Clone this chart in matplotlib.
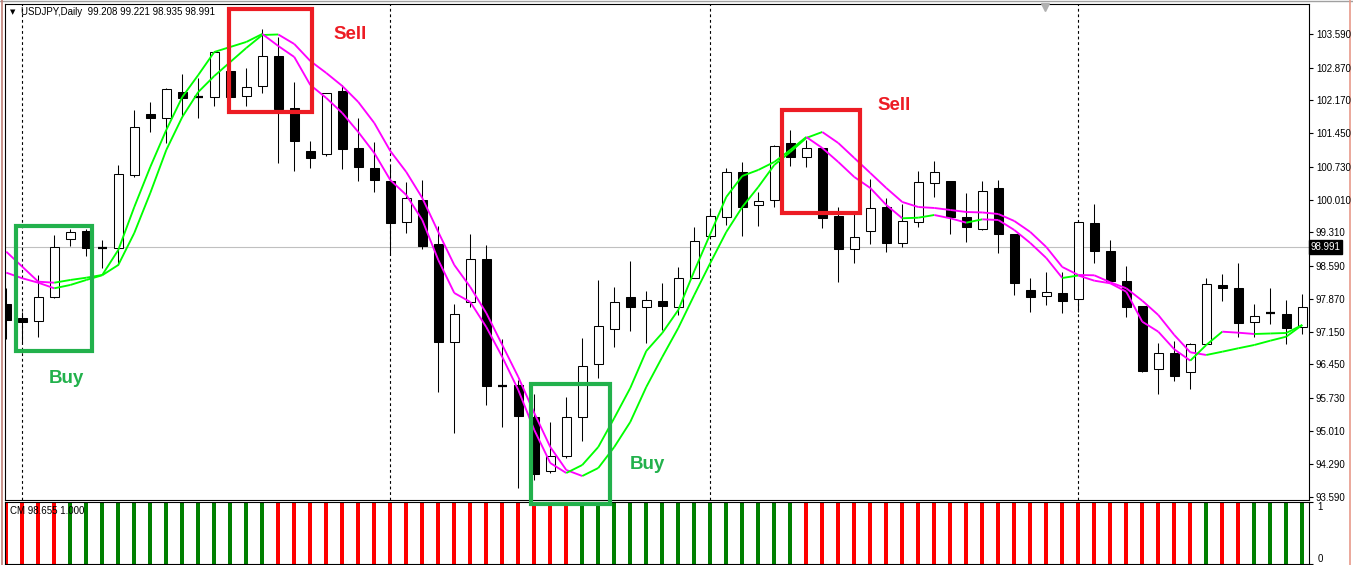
import matplotlib
matplotlib.use("Agg")
import matplotlib.pyplot as plt
from matplotlib.patches import Rectangle
from matplotlib.collections import LineCollection
from matplotlib.lines import Line2D
from matplotlib.transforms import blended_transform_factory

plt.rcParams['font.family'] = ['Liberation Sans', 'DejaVu Sans']

# daily USDJPY candles
opens = [97.758, 97.455, 97.390, 97.909, 99.163, 99.336, 98.969, 98.969, 100.547, 101.867,
         101.780, 102.342, 102.234, 102.234, 102.797, 102.256, 102.472, 103.121, 101.996, 101.067,
         101.002, 102.364, 101.131, 100.699, 100.418, 99.531, 100.007, 99.055, 96.936, 97.801,
         98.731, 95.984, 96.006, 95.314, 94.146, 94.471, 95.314, 96.460, 97.217, 97.909,
         97.693, 97.823, 97.693, 98.320, 99.228, 99.639, 100.612, 99.899, 100.007, 101.239,
         100.937, 101.131, 99.661, 98.947, 99.336, 99.855, 99.077, 99.531, 100.374, 100.418,
         99.639, 99.380, 100.266, 99.272, 98.060, 97.931, 97.996, 97.866, 99.509, 98.904,
         98.255, 97.714, 96.352, 96.698, 96.287, 96.893, 98.169, 98.104, 97.368, 97.563,
         97.541, 97.260]
highs = [98.104, 97.585, 98.385, 99.250, 99.380, 99.380, 99.142, 100.764, 101.953, 102.126,
         102.429, 102.732, 102.645, 103.220, 102.818, 102.861, 103.705, 103.532, 102.559, 101.283,
         102.330, 102.494, 101.780, 101.261, 100.764, 100.396, 100.439, 99.445, 97.758, 99.272,
         99.034, 97.001, 96.114, 95.811, 95.206, 95.746, 97.022, 98.277, 98.125, 98.688,
         98.039, 98.212, 98.558, 99.423, 99.834, 100.699, 100.829, 100.180, 101.196, 101.521,
         101.304, 101.140, 99.855, 99.726, 100.461, 100.050, 99.920, 100.634, 100.850, 100.425,
         100.158, 100.418, 100.439, 99.280, 98.320, 98.450, 98.450, 99.540, 99.920, 99.142,
         98.580, 97.720, 96.914, 96.958, 96.914, 98.320, 98.406, 98.644, 97.758, 98.104,
         97.844, 97.974]
lows = [97.001, 96.914, 97.044, 97.887, 99.012, 98.796, 98.536, 98.601, 100.504, 101.477,
        101.239, 101.802, 101.780, 102.040, 102.213, 102.040, 102.321, 100.807, 100.634, 100.699,
        100.958, 100.677, 100.418, 100.180, 98.817, 99.293, 98.947, 95.855, 94.968, 97.693,
        95.574, 95.098, 93.779, 93.952, 94.103, 94.427, 94.795, 96.157, 96.828, 97.174,
        96.914, 97.195, 97.520, 98.310, 99.220, 99.466, 99.228, 99.445, 99.855, 100.742,
        100.721, 99.401, 98.233, 98.644, 99.055, 98.882, 98.990, 99.423, 100.072, 99.272,
        99.099, 99.358, 98.861, 97.952, 97.585, 97.736, 97.563, 97.585, 98.644, 98.250,
        97.477, 96.287, 95.811, 96.093, 95.920, 96.885, 97.823, 97.044, 97.044, 97.325,
        96.893, 97.109]
closes = [97.412, 97.368, 97.909, 98.990, 99.315, 98.969, 98.969, 100.569, 101.586, 101.780,
          102.407, 102.213, 102.234, 103.207, 102.234, 102.451, 103.121, 101.975, 101.283, 100.915,
          102.321, 101.110, 100.721, 100.439, 99.509, 100.050, 99.012, 96.936, 97.541, 98.731,
          95.984, 95.984, 95.336, 94.081, 94.471, 95.314, 96.417, 97.282, 97.801, 97.693,
          97.844, 97.714, 98.320, 99.120, 99.661, 100.612, 99.855, 99.985, 101.175, 100.937,
          101.131, 99.618, 98.947, 99.207, 99.834, 99.077, 99.553, 100.396, 100.612, 99.639,
          99.423, 100.201, 99.272, 98.212, 97.909, 98.017, 97.823, 99.531, 98.904, 98.255,
          97.693, 96.309, 96.698, 96.201, 96.893, 98.190, 98.104, 97.347, 97.498, 97.563,
          97.239, 97.693]

# the two moving averages
ma_fast = [98.889, 98.564, 98.240, 98.218, 98.277, 98.326, 98.385, 98.926, 99.855, 100.721,
           101.521, 102.234, 102.710, 103.207, 103.316, 103.424, 103.597, 103.337, 103.099, 102.494,
           102.213, 101.888, 101.477, 101.023, 100.439, 100.115, 99.574, 98.709, 97.996, 97.801,
           97.260, 96.612, 95.898, 95.033, 94.319, 94.103, 94.276, 94.665, 95.292, 95.941,
           96.741, 97.131, 97.628, 98.471, 99.272, 100.072, 100.526, 100.656, 100.829, 101.088,
           101.369, 101.131, 100.829, 100.504, 100.266, 99.899, 99.611, 99.624, 99.682, 99.611,
           99.516, 99.589, 99.574, 99.358, 99.077, 98.752, 98.320, 98.374, 98.262, 98.205,
           98.024, 97.375, 97.159, 96.778, 96.532, 96.871, 97.159, 97.137, 97.109, 97.120,
           97.131, 97.304]
ma_slow = [98.435, 98.314, 98.218, 98.097, 98.169, 98.277, 98.380, 98.601, 99.293, 100.158,
           101.088, 101.802, 102.342, 102.688, 102.991, 103.294, 103.575, 103.586, 103.380, 103.013,
           102.753, 102.472, 102.126, 101.672, 101.067, 100.612, 100.050, 99.315, 98.601, 98.125,
           97.563, 96.871, 96.179, 95.400, 94.665, 94.168, 94.038, 94.211, 94.665, 95.206,
           95.963, 96.612, 97.239, 97.952, 98.644, 99.315, 99.855, 100.288, 100.764, 101.045,
           101.348, 101.477, 101.239, 100.915, 100.591, 100.266, 99.964, 99.855, 99.834, 99.791,
           99.747, 99.737, 99.704, 99.553, 99.315, 98.990, 98.558, 98.385, 98.378, 98.227,
           98.097, 97.829, 97.520, 97.087, 96.713, 96.655, 96.726, 96.800, 96.871, 96.964,
           97.051, 97.304]

# bottom indicator: 1 = green bar, 0 = red bar
signal = [0, 0, 0, 0] + [1] * 13 + [0] * 19 + [1] * 14 + [0] * 25 + [1, 0, 0, 1, 1, 1, 1]

price_ticks = [103.590, 102.870, 102.170, 101.450, 100.730, 100.010, 99.310, 98.590,
               97.870, 97.150, 96.450, 95.730, 95.010, 94.290, 93.590]
separators = [1, 24, 44, 67]
last_price = 98.991
header = "USDJPY,Daily  99.208 99.221 98.935 98.991"
indicator_label = "CM 98.655 1.000"

# marked zones: (label, first bar, last bar, top price, bottom price, label bar, label price)
zones = [("Buy", 0.59, 5.38, 99.445, 96.748, 3.78, 96.14),
         ("Sell", 13.92, 19.11, 104.127, 101.910, 21.48, 103.575),
         ("Buy", 32.79, 37.73, 96.028, 93.432, 40.08, 94.28),
         ("Sell", 48.46, 53.33, 101.942, 99.726, 55.48, 102.06)]

GREEN = "#00ff00"
MAGENTA = "#ff00ff"
zone_colors = {"Buy": "#22b14c", "Sell": "#ed1c24"}

W, H = 1353, 565
fig = plt.figure(figsize=(W / 100, H / 100), dpi=100)
ax2 = fig.add_axes([5 / W, 1 - 564 / H, 1304 / W, 62 / H])
ax = fig.add_axes([5 / W, 1 - 500 / H, 1304 / W, 496 / H])
ax.set_zorder(3)
ax.patch.set_visible(False)

n = len(closes)
xlim = (-0.08, 81.42)

# candles
body_w = 0.58
for i in range(n):
    o, h, l, c = opens[i], highs[i], lows[i], closes[i]
    ax.plot([i, i], [l, h], color="black", lw=0.75, zorder=2, solid_capstyle="butt")
    if c == o:
        ax.plot([i - body_w / 2, i + body_w / 2], [c, c], color="black", lw=1.6, zorder=3,
                solid_capstyle="butt")
    else:
        fc = "white" if c > o else "black"
        ax.add_patch(Rectangle((i - body_w / 2, min(o, c)), body_w, abs(c - o),
                               facecolor=fc, edgecolor="black", lw=0.75, zorder=3))

# moving averages, green while rising, magenta while falling
for ma in (ma_slow, ma_fast):
    segs, cols = [], []
    for j in range(1, n):
        segs.append([(j - 1, ma[j - 1]), (j, ma[j])])
        cols.append(GREEN if ma[j] >= ma[j - 1] else MAGENTA)
    ax.add_collection(LineCollection(segs, colors=cols, linewidths=1.35, zorder=4))

# last price line and separators
ax.axhline(last_price, color="#c0c0c0", lw=0.8, zorder=1)
for s in separators:
    ax.axvline(s, color="black", lw=0.8, ls=(0, (2.5, 2.5)), zorder=1)
    ax2.axvline(s, color="black", lw=0.8, ls=(0, (2.5, 2.5)), zorder=1)

ax.set_xlim(*xlim)
ax.set_ylim(93.519, 104.245)
ax.set_xticks([])
ax.yaxis.tick_right()
ax.set_yticks(price_ticks)
ax.set_yticklabels([f"{t:.3f}" for t in price_ticks])
ax.tick_params(axis="y", direction="out", length=3, width=0.8, pad=2, labelsize=7)
for sp in ax.spines.values():
    sp.set_linewidth(0.8)

# last price tag
tr = blended_transform_factory(ax.transAxes, ax.transData)
ax.text(1.0015, last_price, f"{last_price:.3f}", transform=tr, color="white", fontsize=7,
        va="center", ha="left",
        bbox=dict(facecolor="black", edgecolor="black", pad=1.2))

# zones
for label, x0, x1, top, bot, lx, ly in zones:
    col = zone_colors[label]
    ax.add_patch(Rectangle((x0, bot), x1 - x0, top - bot, fill=False, edgecolor=col,
                           lw=3, zorder=6, clip_on=False))
    ax.text(lx, ly, label, color=col, fontsize=13.5, fontweight="bold",
            ha="center", va="center", zorder=6)

# header
fig.text(10 / W, 1 - 12 / H, "\u25bc", fontsize=5, va="center", ha="left",
         family=["DejaVu Sans"])
fig.text(21 / W, 1 - 12 / H, header, fontsize=7, va="center", ha="left")
ax.plot([0.7975], [0.993], transform=ax.transAxes, marker="v", color="#b0b0b0",
        markersize=6, clip_on=False, zorder=7)

# indicator panel
bar_cols = ["#008000" if s == 1 else "#ff0000" for s in signal]
ax2.bar(range(n), [1] * n, width=0.27, color=bar_cols, zorder=2)
ax2.set_xlim(*xlim)
ax2.set_ylim(0, 1)
ax2.set_xticks([])
ax2.yaxis.tick_right()
ax2.set_yticks([0, 1])
ax2.set_yticklabels(["0", "1"])
ax2.tick_params(axis="y", direction="out", length=3, width=0.8, pad=3, labelsize=7)
labs = ax2.get_yticklabels()
labs[0].set_va("bottom")
labs[1].set_va("top")
for sp in ax2.spines.values():
    sp.set_linewidth(0.8)
ax2.text(0.004, 0.86, indicator_label, transform=ax2.transAxes, fontsize=7,
         va="center", ha="left", zorder=5)

# window frame edges
fig.add_artist(Line2D([0, 1], [1 - 0.8 / H, 1 - 0.8 / H], transform=fig.transFigure,
                      color="#a0a0a0", lw=1))
fig.add_artist(Line2D([1 - 3 / W, 1 - 3 / W], [0, 1], transform=fig.transFigure,
                      color="#e89a8a", lw=1.2))
fig.add_artist(Line2D([1.5 / W, 1.5 / W], [0, 1], transform=fig.transFigure,
                      color="#c08078", lw=1.2))

fig.savefig("out.png", dpi=100)
